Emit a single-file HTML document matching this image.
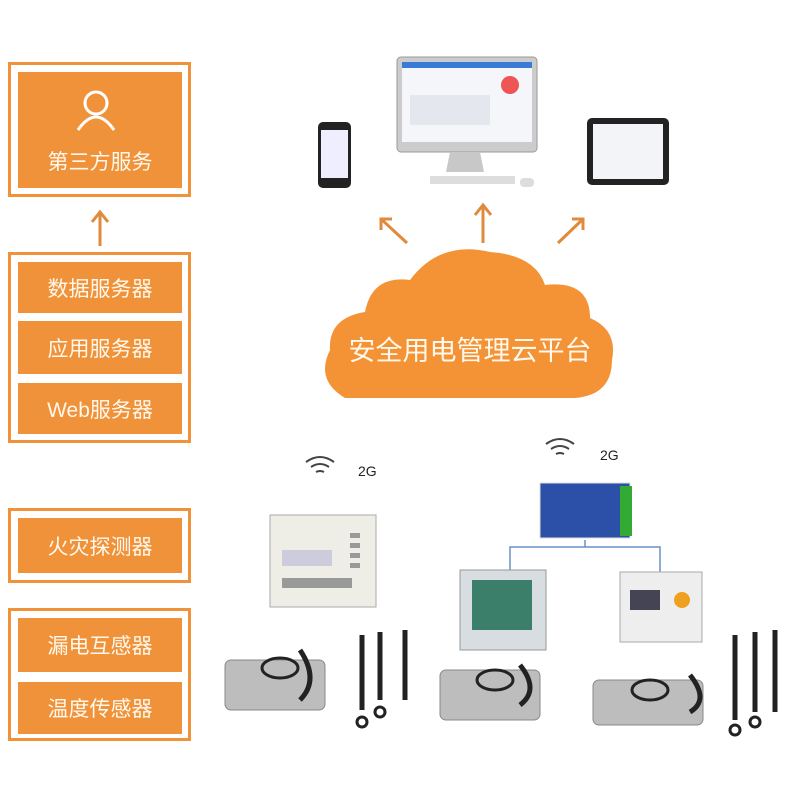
<!DOCTYPE html><html><head><meta charset="utf-8"><style>
body{margin:0;width:800px;height:800px;background:#fff;position:relative;overflow:hidden;font-family:"Liberation Sans","Noto Sans CJK SC",sans-serif}
.o{position:absolute;border:3px solid #f0923a;box-sizing:border-box}
.b{position:absolute;background:#f0923a;color:#fff8ec;font-size:21px;display:flex;align-items:center;justify-content:center;box-sizing:border-box}
.a{position:absolute}
</style></head><body>
<div class="o" style="left:8px;top:62px;width:183px;height:135px"></div>
<div class="b" style="left:18px;top:72px;width:164px;height:116px;flex-direction:column;justify-content:flex-end;padding-bottom:12px">第三方服务</div>
<svg class="a" style="left:0;top:0" width="800" height="800">
<circle cx="96" cy="103" r="11" fill="none" stroke="#fff" stroke-width="3"/>
<path d="M78 130 Q96 104 114 130" fill="none" stroke="#fff" stroke-width="3"/>
<g stroke="#e08a3c" stroke-width="3" fill="none">
<path d="M100 246V213M92 222L100 212L108 222"/>
<path d="M407 243L381 219M381 230V219H392"/>
<path d="M483 243V206M475 215L483 205L491 215"/>
<path d="M558 243L583 219M572 219H583V230"/>
</g>
<path d="M345 398 Q315 380 330 350 Q328 318 365 312 Q372 275 410 280 Q440 240 490 252 Q535 255 545 285 Q590 280 590 318 Q618 330 612 360 Q612 395 575 398 Z" fill="#f39336"/>
<text x="470" y="360" font-size="27" fill="#fff8ec" text-anchor="middle" font-family="Liberation Sans,Noto Sans CJK SC,sans-serif">安全用电管理云平台</text>
<rect x="397" y="57" width="140" height="95" rx="4" fill="#ccc" stroke="#999"/>
<rect x="402" y="62" width="130" height="80" fill="#f4f6fa"/>
<rect x="402" y="62" width="130" height="6" fill="#3a7bd5"/>
<circle cx="510" cy="85" r="9" fill="#e55"/>
<rect x="410" y="95" width="80" height="30" fill="#e4e8ee"/>
<path d="M450 152H480L484 172H446Z" fill="#c8c8c8"/>
<rect x="430" y="176" width="85" height="8" fill="#ddd"/>
<rect x="520" y="178" width="14" height="9" rx="4" fill="#ddd"/>
<rect x="318" y="122" width="33" height="66" rx="5" fill="#222"/>
<rect x="321" y="130" width="27" height="48" fill="#eef"/>
<rect x="587" y="118" width="82" height="67" rx="5" fill="#222"/>
<rect x="593" y="124" width="70" height="55" fill="#f2f4f8"/>
<g fill="none" stroke="#444" stroke-width="2">
<path d="M306 462Q320 452 334 462M311 467Q320 461 329 467M316 472Q320 470 324 472"/>
<path d="M546 444Q560 434 574 444M551 449Q560 443 569 449M556 454Q560 452 564 454"/>
</g>
<text x="358" y="476" font-size="14" fill="#222" font-family="Liberation Sans">2G</text>
<text x="600" y="460" font-size="14" fill="#222" font-family="Liberation Sans">2G</text>
<rect x="540" y="483" width="90" height="55" fill="#2c4fa8" stroke="#ddd"/>
<rect x="620" y="486" width="12" height="50" fill="#3a3"/>
<g stroke="#6a8fc8" stroke-width="1.5" fill="none"><path d="M585 540V547H510V572M585 547H660V572"/></g>
<rect x="270" y="515" width="106" height="92" fill="#eeeee6" stroke="#aaa"/>
<rect x="282" y="550" width="50" height="16" fill="#ccd"/>
<g fill="#999"><rect x="350" y="533" width="10" height="5"/><rect x="350" y="543" width="10" height="5"/><rect x="350" y="553" width="10" height="5"/><rect x="350" y="563" width="10" height="5"/><rect x="282" y="578" width="70" height="10"/></g>
<rect x="460" y="570" width="86" height="80" fill="#d8dde2" stroke="#999"/>
<rect x="472" y="580" width="60" height="50" fill="#3b7f6a"/>
<rect x="620" y="572" width="82" height="70" fill="#eee" stroke="#aaa"/>
<rect x="630" y="590" width="30" height="20" fill="#445"/>
<circle cx="682" cy="600" r="8" fill="#f0a020"/>
<g fill="#bdbdbd" stroke="#888">
<rect x="225" y="660" width="100" height="50" rx="6"/>
<rect x="440" y="670" width="100" height="50" rx="6"/>
<rect x="593" y="680" width="110" height="45" rx="6"/>
</g>
<g stroke="#222" stroke-width="5" fill="none">
<path d="M362 635V710M380 632V700M405 630V700M735 635V720M755 632V712M775 630V712"/>
<path d="M300 650Q320 680 300 700M520 665Q540 690 520 705M690 675Q710 700 690 712"/>
</g>
<g stroke="#222" stroke-width="3" fill="none">
<ellipse cx="280" cy="668" rx="18" ry="10"/><ellipse cx="495" cy="680" rx="18" ry="10"/><ellipse cx="650" cy="690" rx="18" ry="10"/>
<circle cx="362" cy="722" r="5"/><circle cx="380" cy="712" r="5"/><circle cx="735" cy="730" r="5"/><circle cx="755" cy="722" r="5"/>
</g>
</svg>
<div class="o" style="left:8px;top:252px;width:183px;height:191px"></div>
<div class="b" style="left:18px;top:262px;width:164px;height:51px">数据服务器</div>
<div class="b" style="left:18px;top:321px;width:164px;height:53px">应用服务器</div>
<div class="b" style="left:18px;top:383px;width:164px;height:51px">Web服务器</div>
<div class="o" style="left:8px;top:508px;width:183px;height:75px"></div>
<div class="b" style="left:18px;top:518px;width:164px;height:55px">火灾探测器</div>
<div class="o" style="left:8px;top:608px;width:183px;height:133px"></div>
<div class="b" style="left:18px;top:618px;width:164px;height:54px">漏电互感器</div>
<div class="b" style="left:18px;top:682px;width:164px;height:52px">温度传感器</div>
</body></html>
